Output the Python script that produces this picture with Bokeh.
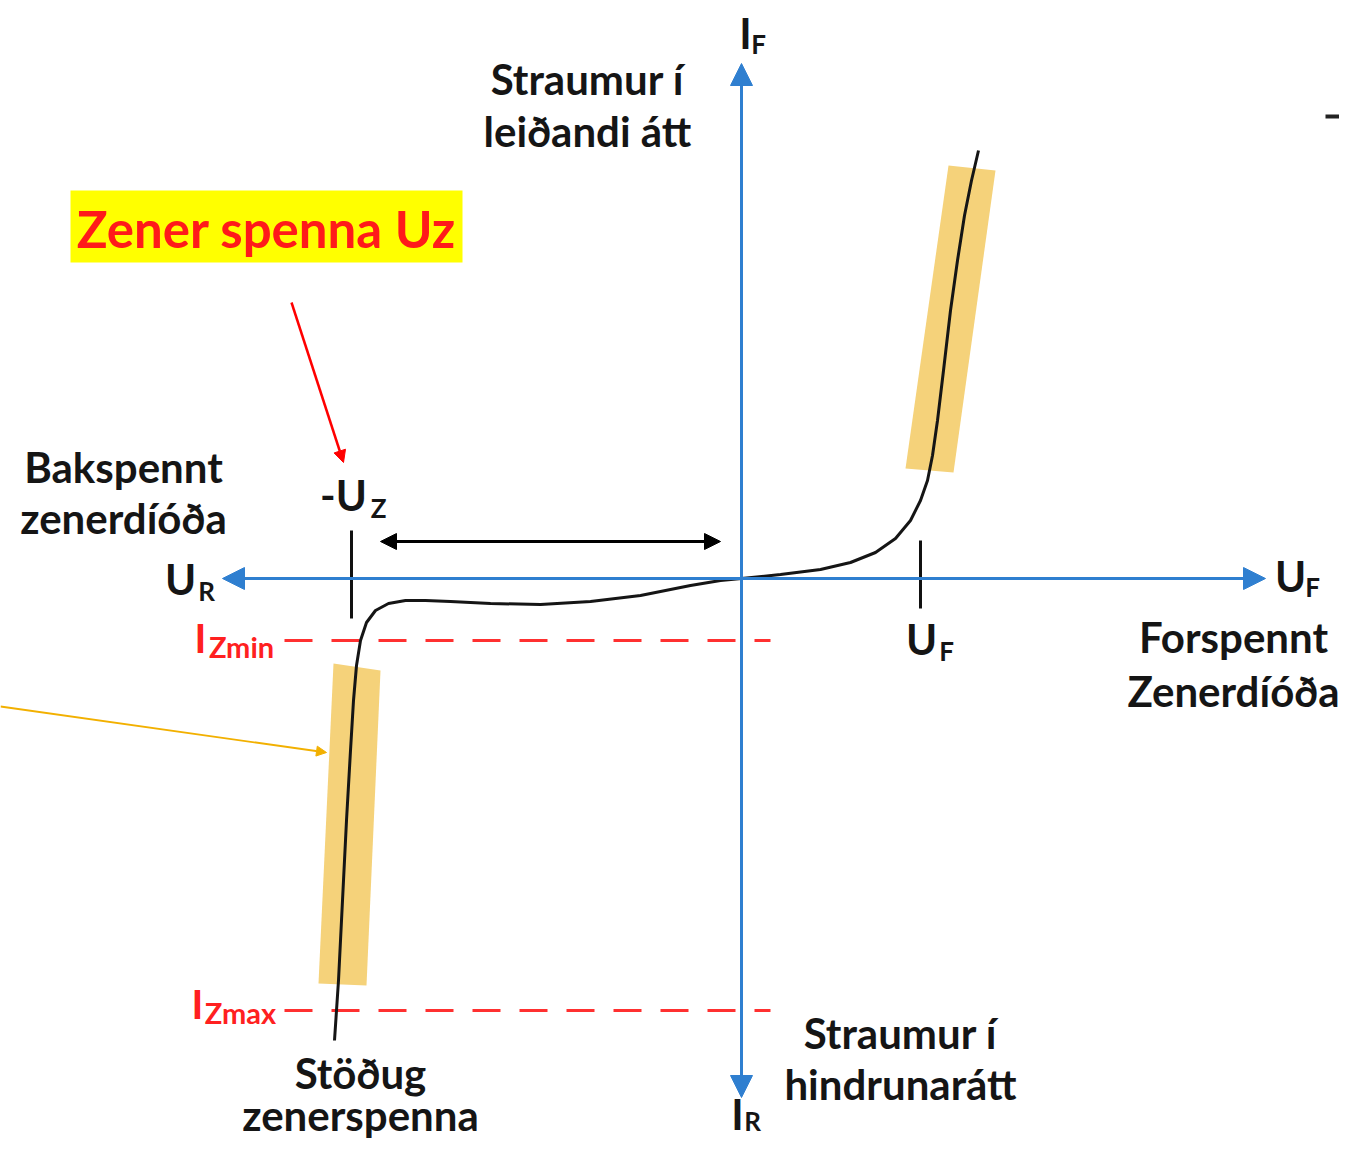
from bokeh.plotting import figure
from bokeh.models import Range1d, Arrow, NormalHead
from bokeh.core.properties import value
from bokeh.embed import file_html
from bokeh.resources import INLINE

# ---- data (diagram coordinates, screen-like units, y grows downward) ----
curve_x = [334, 338, 342, 346, 350, 353, 356, 360, 366, 375, 388, 405, 425, 450, 490, 540, 590, 640, 690, 720, 741,
           780, 820, 850, 875, 895, 910, 920, 927, 932, 937, 943, 950, 957, 964, 971, 978]
curve_y = [1040, 980, 900, 820, 750, 700, 665, 640, 622, 610, 603, 600, 600, 601, 603, 604, 601, 595, 585, 580, 578,
           574, 569, 562, 552, 538, 520, 500, 480, 455, 420, 370, 310, 260, 215, 180, 150]

band_low_x = [333, 380, 366, 318]
band_low_y = [663, 670, 985, 983]
band_high_x = [948, 995, 953, 905]
band_high_y = [165, 170, 472, 468]

axis_h = dict(x0=222, x1=1265, y=578)
axis_v = dict(x=741, y0=1097, y1=63)

tick_x = [351, 920]
tick_y0 = [530, 540]
tick_y1 = [618, 608]

izmin_y = 640
izmax_y = 1010
dash_x = [284, 770]

label_text = ["Straumur í", "leiðandi átt", "Bakspennt", "zenerdíóða", "Forspennt", "Zenerdíóða",
              "Stöðug", "zenerspenna", "Straumur í", "hindrunarátt"]
label_x = [587, 587, 123, 123, 1233, 1233, 360, 360, 900, 900]
label_y = [78, 130, 466, 517, 636, 690, 1072, 1114, 1032, 1083]

sym_text = ["I", "U", "U", "U", "-U", "I"]
sym_x = [745, 180, 1290, 921, 343, 737]
sym_y = [32, 578, 575, 638, 494, 1113]
sub_text = ["F", "R", "F", "F", "Z", "R"]
sub_x = [758, 206, 1312, 946, 378, 752]
sub_y = [43, 590, 586, 650, 507, 1120]

red_sym_x = [200, 197]
red_sym_y = [637, 1003]
red_sub_text = ["Zmin", "Zmax"]
red_sub_x = [241, 240]
red_sub_y = [646, 1012]

p = figure(width=1339, height=1140, output_backend="svg", toolbar_location=None,
           x_range=Range1d(0, 1339), y_range=Range1d(1140, 0),
           x_axis_location=None, y_axis_location=None, min_border=0)
p.grid.visible = False
p.outline_line_color = None
p.background_fill_color = "white"

# yellow highlight bands
p.patches(xs=[band_low_x, band_high_x], ys=[band_low_y, band_high_y],
          fill_color="#F5D27A", line_color=None)

# highlight box for Zener spenna Uz
p.quad(left=[70], right=[462], top=[190], bottom=[262], fill_color="#FFFF00", line_color=None)
p.text(x=[266], y=[228], text=["Zener spenna Uz"], text_font=value("Lato"), text_font_style="bold",
       text_font_size="51px", text_color="#FF1A1A", text_align="center", text_baseline="middle")

blue = "#2F7FD0"
# axes
p.add_layout(Arrow(start=NormalHead(size=22, fill_color=blue, line_color=blue),
                   end=NormalHead(size=22, fill_color=blue, line_color=blue),
                   x_start=axis_h["x0"], y_start=axis_h["y"], x_end=axis_h["x1"], y_end=axis_h["y"],
                   line_color=blue, line_width=3))
p.add_layout(Arrow(start=NormalHead(size=22, fill_color=blue, line_color=blue),
                   end=NormalHead(size=22, fill_color=blue, line_color=blue),
                   x_start=axis_v["x"], y_start=axis_v["y0"], x_end=axis_v["x"], y_end=axis_v["y1"],
                   line_color=blue, line_width=3))

# dashed red lines
p.line(x=dash_x, y=[izmin_y, izmin_y], line_color="#FF3030", line_width=3, line_dash="28 19")
p.line(x=dash_x, y=[izmax_y, izmax_y], line_color="#FF3030", line_width=3, line_dash="28 19")

# ticks
p.segment(x0=tick_x, y0=tick_y0, x1=tick_x, y1=tick_y1, line_color="#111111", line_width=3)

# characteristic curve
p.line(x=curve_x, y=curve_y, line_color="#151515", line_width=3)

# double arrow
p.add_layout(Arrow(start=NormalHead(size=16, fill_color="black", line_color="black"),
                   end=NormalHead(size=16, fill_color="black", line_color="black"),
                   x_start=380, y_start=541, x_end=720, y_end=541, line_color="black", line_width=3))

# red arrow
p.add_layout(Arrow(end=NormalHead(size=12, fill_color="#FF0000", line_color="#FF0000"),
                   x_start=291, y_start=302, x_end=343, y_end=462, line_color="#FF0000", line_width=2.5))
# orange arrow
p.add_layout(Arrow(end=NormalHead(size=10, fill_color="#F2B000", line_color="#F2B000"),
                   x_start=0, y_start=706, x_end=326, y_end=752, line_color="#F2B000", line_width=1.8))

# stray black line top right
p.line(x=[1325, 1339], y=[116, 116], line_color="#222222", line_width=4)

# labels
p.text(x=label_x, y=label_y, text=label_text, text_font=value("Lato"), text_font_style="bold",
       text_font_size="42px", text_color="#151515", text_align="center", text_baseline="middle")
p.text(x=sym_x, y=sym_y, text=sym_text, text_font=value("Lato"), text_font_style="bold",
       text_font_size="42px", text_color="#151515", text_align="center", text_baseline="middle")
p.text(x=sub_x, y=sub_y, text=sub_text, text_font=value("Lato"), text_font_style="bold",
       text_font_size="26px", text_color="#151515", text_align="center", text_baseline="middle")
p.text(x=red_sym_x, y=red_sym_y, text=["I", "I"], text_font=value("Lato"), text_font_style="bold",
       text_font_size="40px", text_color="#FF2020", text_align="center", text_baseline="middle")
p.text(x=red_sub_x, y=red_sub_y, text=red_sub_text, text_font=value("Lato"), text_font_style="bold",
       text_font_size="29px", text_color="#FF2020", text_align="center", text_baseline="middle")

open("out.html", "w").write(file_html(p, INLINE))
